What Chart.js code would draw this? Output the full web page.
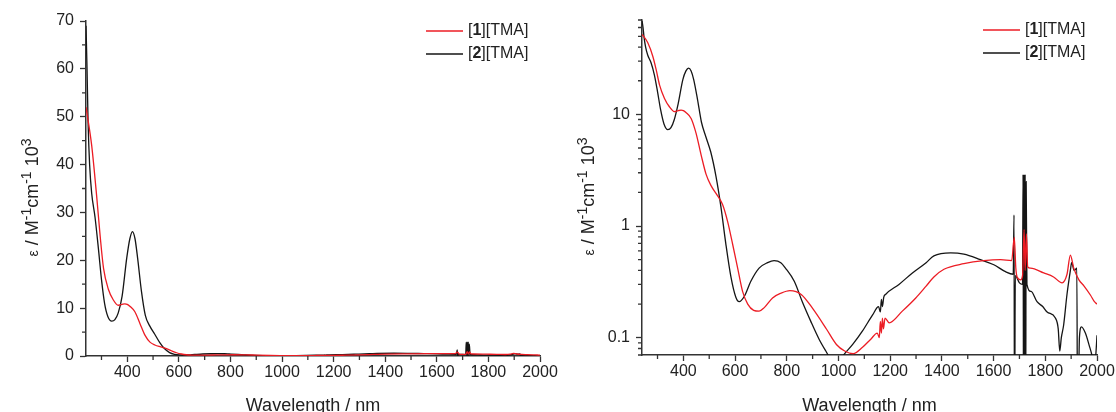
<!DOCTYPE html>
<html>
<head>
<meta charset="utf-8">
<script src="https://cdn.jsdelivr.net/npm/chart.js@4.4.1/dist/chart.umd.min.js"></script>
<style>
  html, body { margin: 0; padding: 0; background: #fff; overflow: hidden; }
  #wrap { position: relative; width: 1116px; height: 412px; overflow: hidden; }
  canvas { position: absolute; top: 0; }
  #linChart { left: 0; }
  #logChart { left: 556px; }
</style>
</head>
<body>
<div id="wrap">
  <canvas id="linChart" width="570" height="420"></canvas>
  <canvas id="logChart" width="580" height="420"></canvas>
</div>
<script>
// [1][TMA] (red)
const wl1 = [240, 243, 262, 282, 295, 308, 327, 346, 365, 380, 391, 400, 410, 430, 449, 469, 488, 507, 530, 552,
  571, 591, 610, 629, 649, 672, 693, 713, 745, 777, 812, 857, 902, 954, 992, 1024, 1057, 1093, 1125, 1150,
  1158, 1162, 1166, 1170, 1174, 1180, 1196, 1247, 1299, 1339, 1369, 1408, 1485, 1562, 1627, 1670, 1680, 1686, 1691, 1705,
  1712, 1718, 1722, 1727, 1732, 1743, 1794, 1832, 1865, 1884, 1897, 1910, 1930, 1950, 1975, 1990, 2000];
const eps1 = [52, 51, 44, 33, 25, 18.3, 13.9, 11.7, 10.6, 10.8, 10.9, 10.8, 10.4, 9.2, 6.8, 4.3, 2.9, 2.3, 1.9, 1.55,
  1.1, 0.68, 0.42, 0.26, 0.2, 0.176, 0.173, 0.186, 0.227, 0.25, 0.264, 0.243, 0.18, 0.119, 0.087, 0.076, 0.072, 0.082, 0.097, 0.11,
  0.1, 0.14, 0.11, 0.15, 0.12, 0.15, 0.136, 0.173, 0.227, 0.29, 0.35, 0.41, 0.46, 0.49, 0.5, 0.49, 0.79, 0.42, 0.35, 0.33,
  0.36, 0.93, 0.4, 0.85, 0.43, 0.42, 0.38, 0.35, 0.31, 0.37, 0.55, 0.42, 0.33, 0.29, 0.24, 0.21, 0.2];

// [2][TMA] (black)
const wl2 = [240, 244, 248, 254, 262, 275, 288, 300, 312, 325, 340, 352, 365, 380, 398, 410, 420, 430, 440, 455,
  470, 487, 506, 526, 545, 564, 584, 603, 616, 636, 661, 693, 726, 751, 777, 795, 829, 860, 893, 925,
  951, 975, 1000, 1016, 1055, 1093, 1132, 1155, 1162, 1166, 1170, 1175, 1183, 1234, 1286, 1339, 1369, 1434, 1485, 1549,
  1601, 1646, 1676, 1679, 1681, 1684, 1700, 1712, 1714, 1716, 1718, 1720, 1722, 1724, 1726, 1729, 1745, 1768, 1790, 1807,
  1839, 1850, 1856, 1862, 1871, 1884, 1897, 1902, 1912, 1922, 1925, 1932, 1940, 1955, 1970, 1980, 1990, 1997, 2000];
const eps2 = [69, 60, 49, 40, 34, 29, 22.5, 16, 11, 8.2, 7.3, 7.6, 9, 12.5, 20.5, 24.5, 26, 24.5, 20.5, 13.5,
  8.5, 6.3, 4.6, 2.8, 1.5, 0.7, 0.35, 0.23, 0.21, 0.235, 0.32, 0.42, 0.47, 0.49, 0.47, 0.42, 0.32, 0.21, 0.14, 0.097,
  0.076, 0.062, 0.058, 0.068, 0.087, 0.115, 0.16, 0.19, 0.17, 0.22, 0.19, 0.23, 0.245, 0.3, 0.38, 0.47, 0.54, 0.575, 0.56, 0.5,
  0.45, 0.39, 0.37, 1.26, 0.01, 0.36, 0.31, 0.3, 2.9, 0.01, 2.9, 0.01, 2.9, 0.01, 2.5, 0.3, 0.26, 0.21, 0.19, 0.17,
  0.15, 0.12, 0.076, 0.1, 0.13, 0.245, 0.4, 0.47, 0.4, 0.42, 0.01, 0.1, 0.125, 0.11, 0.085, 0.07, 0.05, 0.08, 0.105];

const seriesIds = ['1', '2'];
const seriesColors = ['#ec1c24', '#151515'];

const xTicks = [400, 600, 800, 1000, 1200, 1400, 1600, 1800, 2000];
const xMinor = [300, 500, 700, 900, 1100, 1300, 1500, 1700, 1900];
const yTicksLin = [0, 10, 20, 30, 40, 50, 60, 70];
const yMinorLin = [5, 15, 25, 35, 45, 55, 65];
const yTicksLog = [0.1, 1, 10];
const yMinorLog = [0.07, 0.08, 0.09, 0.2, 0.3, 0.4, 0.5, 0.6, 0.7, 0.8, 0.9, 2, 3, 4, 5, 6, 7, 8, 9, 20, 30, 40, 50, 60, 70];

// y title pieces: text, font size, raise (superscripts)
const yTitleParts = [['ε', 14, 0], [' / M', 18, 0], ['-1', 14, 7], ['cm', 18, 0], ['-1', 14, 7], [' 10', 18, 0], ['3', 14, 7]];

const FONT = '"Liberation Sans", Arial, sans-serif';
const INK = '#222';
const AXIS = '#333';

function points(wl, eps) {
    return wl.map((x, i) => ({ x: x, y: eps[i] }));
}

// short minor ticks, drawn through the chart's own scales
const minorTicks = {
    id: 'minorTicks',
    afterDraw(chart, args, opts) {
        const ctx = chart.ctx;
        const xs = chart.scales.x;
        const ys = chart.scales.y;
        ctx.save();
        ctx.strokeStyle = AXIS;
        ctx.lineWidth = 1.3;
        ctx.beginPath();
        opts.x.forEach(v => {
            const px = xs.getPixelForValue(v);
            ctx.moveTo(px, xs.top);
            ctx.lineTo(px, xs.top + 4);
        });
        opts.y.forEach(v => {
            const py = ys.getPixelForValue(v);
            ctx.moveTo(ys.right, py);
            ctx.lineTo(ys.right - 4, py);
        });
        ctx.stroke();
        ctx.restore();
    }
};

// rotated y title with real superscripts
const yTitle = {
    id: 'yTitle',
    afterDraw(chart) {
        const ctx = chart.ctx;
        const area = chart.chartArea;
        ctx.save();
        let total = 0;
        yTitleParts.forEach(([txt, size]) => {
            ctx.font = size + 'px ' + FONT;
            total += ctx.measureText(txt).width;
        });
        ctx.translate(38, (area.top + area.bottom) / 2 + 9);
        ctx.rotate(-Math.PI / 2);
        ctx.fillStyle = INK;
        ctx.textBaseline = 'alphabetic';
        let tx = -total / 2;
        yTitleParts.forEach(([txt, size, raise]) => {
            ctx.font = size + 'px ' + FONT;
            ctx.fillText(txt, tx, -raise);
            tx += ctx.measureText(txt).width;
        });
        ctx.restore();
    }
};

// legend with the bold compound number: [1][TMA]
const tmaLegend = {
    id: 'tmaLegend',
    afterDraw(chart) {
        const ctx = chart.ctx;
        const area = chart.chartArea;
        const x0 = area.right - 114;
        ctx.save();
        ctx.textBaseline = 'middle';
        chart.data.datasets.forEach((ds, i) => {
            const y = area.top + 10 + i * 23;
            ctx.strokeStyle = ds.borderColor;
            ctx.lineWidth = 1.4;
            ctx.beginPath();
            ctx.moveTo(x0, y);
            ctx.lineTo(x0 + 37, y);
            ctx.stroke();

            let tx = x0 + 42;
            const parts = [['[', 'normal'], [seriesIds[i], 'bold'], ['][TMA]', 'normal']];
            parts.forEach(([txt, weight]) => {
                ctx.font = weight + ' 16px ' + FONT;
                ctx.fillStyle = INK;
                ctx.fillText(txt, tx, y);
                tx += ctx.measureText(txt).width;
            });
        });
        ctx.restore();
    }
};

function makeX(height) {
    return {
        type: 'linear',
        min: 240,
        max: 2000,
        afterBuildTicks: s => { s.ticks = xTicks.map(v => ({ value: v })); },
        afterFit: s => { s.height = height; },
        ticks: { autoSkip: false, maxRotation: 0, padding: 1, color: INK, font: { family: FONT, size: 16 }, callback: v => String(v) },
        grid: { drawOnChartArea: false, drawTicks: true, tickLength: 6, tickColor: AXIS, tickWidth: 1.3 },
        border: { display: true, color: AXIS, width: 1.5 },
        title: { display: true, text: 'Wavelength / nm', color: INK, font: { family: FONT, size: 18 }, padding: { top: 0, bottom: 3 } }
    };
}

function makeY(type, min, max, majors) {
    return {
        type: type,
        min: min,
        max: max,
        afterBuildTicks: s => { s.ticks = majors.map(v => ({ value: v })); },
        afterFit: s => { s.width = 86; },
        ticks: { autoSkip: false, padding: 6, color: INK, font: { family: FONT, size: 16 }, callback: v => String(v) },
        grid: { drawOnChartArea: false, drawTicks: true, tickLength: 6, tickColor: AXIS, tickWidth: 1.3 },
        border: { display: true, color: AXIS, width: 1.5 },
        title: { display: false }
    };
}

function makeDatasets() {
    return [
        { label: '[1][TMA]', data: points(wl1, eps1), borderColor: seriesColors[0] },
        { label: '[2][TMA]', data: points(wl2, eps2), borderColor: seriesColors[1] }
    ].map(ds => Object.assign(ds, { borderWidth: 1.3, pointRadius: 0, fill: false, cubicInterpolationMode: 'monotone' }));
}

function buildChart(id, yScale, minorY, pad, xHeight) {
    return new Chart(document.getElementById(id), {
        type: 'line',
        data: { datasets: makeDatasets() },
        options: {
            responsive: false,
            animation: false,
            events: [],
            layout: { padding: pad },
            scales: { x: makeX(xHeight), y: yScale },
            plugins: {
                legend: { display: false },
                tooltip: { enabled: false },
                minorTicks: { x: xMinor, y: minorY }
            }
        },
        plugins: [minorTicks, yTitle, tmaLegend]
    });
}

buildChart('linChart', makeY('linear', 0, 70, yTicksLin), yMinorLin, { left: 0, top: 21, right: 30, bottom: 0 }, 64);
buildChart('logChart', makeY('logarithmic', 0.07, 70, yTicksLog), yMinorLog, { left: 0, top: 20, right: 39, bottom: 0 }, 65);
</script>
</body>
</html>
